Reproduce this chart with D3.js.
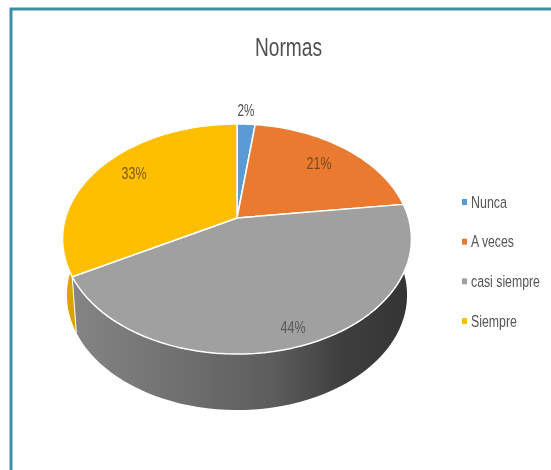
<!DOCTYPE html>
<html><head><meta charset="utf-8">
<script src="https://cdnjs.cloudflare.com/ajax/libs/d3/7.8.5/d3.min.js"></script>
<style>html,body{margin:0;padding:0;background:#fff}svg{display:block}
text{font-family:"Liberation Sans",sans-serif}</style>
</head><body><svg id="c" width="551" height="470"></svg>
<script>
const categories=["Nunca","A veces","casi siempre","Siempre"];
const values=[2,21,44,33];
const labels=["2%","21%","44%","33%"];
const colors=["#5b9bd5","#ea7a30","#a0a0a0","#ffbe00"];
const wallColors=["#4a7fb0","#c26628","#777777","#dca300"];

const svg=d3.select("#c");
const defs=svg.append("defs");
const g=defs.append("linearGradient").attr("id","wall").attr("gradientUnits","userSpaceOnUse")
  .attr("x1",70).attr("x2",411).attr("y1",0).attr("y2",0);
[[0,"#858585"],[.35,"#6e6e6e"],[.6,"#5c5c5c"],[.8,"#3e3e3e"],[1,"#343434"]].forEach(d=>g.append("stop").attr("offset",d[0]).attr("stop-color",d[1]));
defs.append("filter").attr("id","soft").append("feGaussianBlur").attr("stdDeviation",0.4);

svg.append("rect").attr("x",11).attr("y",9).attr("width",600).attr("height",500)
  .attr("fill","#fff").attr("stroke","#3e8ea8").attr("stroke-width",3);

const txt=(x,y,s,size,fill,len,anchor)=>{
  const t=svg.append("text").attr("text-anchor",anchor||"middle").attr("font-size",size)
    .attr("fill",fill).attr("filter","url(#soft)").text(s);
  const k=len/t.node().getComputedTextLength();
  t.attr("transform",`translate(${x},${y}) scale(${k},1)`);
  return t;
};

txt(288.5,56,"Normas",26,"#505050",67);

const cx=237,cy=218,A=171.5,B=111.2,p=-0.1826,depth=56,shrink=0.975;
const proj=(a,z)=>{const x=Math.sin(a),y=-Math.cos(a),d=1+p*y,s=1-z*(1-shrink);
  return [cx+A*x/d*s,cy+B*y/d+z*depth];};
const arcs=d3.pie().sort(null).value(d=>d)(values);
const line=d3.line();
const sample=(a0,a1)=>d3.range(0,61).map(i=>a0+(a1-a0)*i/60);

arcs.forEach((s,i)=>{
  const t=sample(s.startAngle,s.endAngle);
  const pts=t.map(a=>proj(a,0)).concat(t.slice().reverse().map(a=>proj(a,1)));
  svg.append("path").attr("d",line(pts)+"Z")
    .attr("fill",i===2?"url(#wall)":wallColors[i]);
});
const s2=arcs[2];
svg.append("line").attr("x1",proj(s2.endAngle,0)[0]).attr("y1",proj(s2.endAngle,0)[1])
  .attr("x2",proj(s2.endAngle,1)[0]).attr("y2",proj(s2.endAngle,1)[1]).attr("stroke","#fff").attr("stroke-width",1);

arcs.forEach((s,i)=>{
  const t=sample(s.startAngle,s.endAngle);
  const pts=[[cx,cy]].concat(t.map(a=>proj(a,0)));
  svg.append("path").attr("d",line(pts)+"Z").attr("fill",colors[i])
    .attr("stroke","#fff").attr("stroke-width",1.5).attr("stroke-linejoin","round");
});

const labelAt=[[246,116],[319,169],[293,333],[134,179]];
const labelLen=[17,25,25,25];
const labelFill=["#505050","#7a4a20","#5a5a5a","#7a5a10"];
labels.forEach((l,i)=>txt(labelAt[i][0],labelAt[i][1],l,16.5,labelFill[i],labelLen[i]));

const legendLen=[36,43,69,46];
const ly=d3.scalePoint().domain(categories).range([202,321]);
categories.forEach((c,i)=>{
  svg.append("rect").attr("x",462).attr("y",ly(c)-3).attr("width",5).attr("height",6).attr("fill",colors[i]);
  txt(471,ly(c)+5.5,c,16.5,"#555",legendLen[i],"start");
});
</script></body></html>
